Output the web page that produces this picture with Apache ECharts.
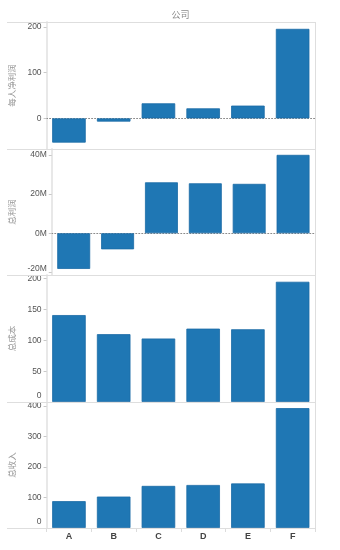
<!DOCTYPE html>
<html>
<head>
<meta charset="utf-8">
<script src="https://cdn.jsdelivr.net/npm/echarts@6/dist/echarts.min.js"></script>
<style>
  html, body { margin: 0; padding: 0; background: #fff; }
  #chart { width: 340px; height: 550px; }
</style>
</head>
<body>
<div id="chart"></div>
<script>
// Company metrics, one panel per measure
const companies = ['A', 'B', 'C', 'D', 'E', 'F'];
const netPerPerson = [-53, -7, 33, 22, 28, 196];          // 每人净利润
const totalProfit = [-18.2e6, -8.2e6, 26.0e6, 25.5e6, 25.2e6, 40.0e6]; // 总利润
const totalCost = [141, 110, 103, 119, 118, 195];        // 总成本
const totalRevenue = [88, 103, 138, 141, 146, 393];      // 总收入

const measureNames = ['每人净利润', '总利润', '总成本', '总收入'];
const tickNet = [0, 100, 200];
const tickProfit = [-20e6, 0, 20e6, 40e6];
const tickCost = [0, 50, 100, 150, 200];
const tickRevenue = [0, 100, 200, 300, 400];

const seriesData = [netPerPerson, totalProfit, totalCost, totalRevenue];
const tickSets = [tickNet, tickProfit, tickCost, tickRevenue];
const ranges = [[-67, 211], [-21.3e6, 43e6], [0, 206], [0, 413]];

const FONT = '"Liberation Sans", Arial, sans-serif';
const CJK = '"Noto Sans CJK SC", sans-serif';
const tops = [22, 149, 275, 402];
const heights = [127, 126, 127, 126];
const LEFT = 46, RIGHT_X = 315;

const chart = echarts.init(document.getElementById('chart'), null, { renderer: 'canvas' });

const grids = tops.map((t, i) => ({ left: LEFT, width: RIGHT_X - LEFT, top: t, height: heights[i] }));

const xAxes = tops.map((t, i) => ({
  type: 'category',
  gridIndex: i,
  data: companies,
  boundaryGap: true,
  axisLine: i < 2
    ? { show: true, onZero: true, lineStyle: { color: '#8a8a8a', type: [1, 2], width: 1 } }
    : { show: i === 3, lineStyle: { color: '#dcdcdc', width: 1 } },
  axisTick: { show: i === 3, length: 4, lineStyle: { color: '#dcdcdc' } },
  axisLabel: {
    show: i === 3, margin: 4, color: '#444', fontSize: 9, fontWeight: 'bold', fontFamily: FONT
  },
  splitLine: { show: false }
}));

// Edge labels are nudged inward so they stay inside their panel
function labelFor(i) {
  return function (v) {
    const txt = i === 1 ? (v / 1e6) + 'M' : String(v);
    if (i === 1 && v === -20e6) return '{up1|' + txt + '}';
    if ((i === 2 || i === 3) && v === 0) return '{up2|' + txt + '}';
    return txt;
  };
}

const yAxes = tops.map((t, i) => ({
  type: 'value',
  gridIndex: i,
  min: ranges[i][0],
  max: ranges[i][1],
  name: measureNames[i],
  nameLocation: 'middle',
  nameGap: 30,
  nameTextStyle: { color: '#9a9a9a', fontSize: 8.5, fontFamily: CJK },
  axisLine: { show: true, lineStyle: { color: '#e8e8e8', width: 2 } },
  axisTick: { show: true, length: 3, customValues: tickSets[i], lineStyle: { color: '#c8c8c8' } },
  axisLabel: {
    customValues: tickSets[i],
    margin: 5,
    color: '#555',
    fontSize: 8.5,
    fontFamily: FONT,
    formatter: labelFor(i),
    rich: {
      up1: { fontSize: 8.5, color: '#555', fontFamily: FONT, padding: [0, 0, 7, 0] },
      up2: { fontSize: 8.5, color: '#555', fontFamily: FONT, padding: [0, 0, 12, 0] }
    }
  },
  splitLine: { show: false }
}));

const series = seriesData.map((d, i) => ({
  type: 'bar',
  xAxisIndex: i,
  yAxisIndex: i,
  data: d,
  barCategoryGap: '25%',
  itemStyle: { color: '#1f77b4', borderColor: '#1b6ba6', borderWidth: 0.8 },
  emphasis: { disabled: true },
  animation: false
}));

// Panel frame lines and the column header
const graphics = [];
[22, 149, 275, 402, 528].forEach(y => {
  graphics.push({
    type: 'line', z: 100,
    shape: { x1: 7, y1: y + 0.5, x2: RIGHT_X, y2: y + 0.5 },
    style: { stroke: '#dedede', lineWidth: 1 }
  });
});
graphics.push({
  type: 'line', z: 100,
  shape: { x1: RIGHT_X + 0.5, y1: 22, x2: RIGHT_X + 0.5, y2: 528 },
  style: { stroke: '#dedede', lineWidth: 1 }
});
graphics.push({
  type: 'text', x: 180.5, y: 15,
  style: { text: '公司', fill: '#8a8a8a', fontSize: 9, align: 'center', verticalAlign: 'middle', fontFamily: CJK }
});

chart.setOption({
  animation: false,
  grid: grids,
  xAxis: xAxes,
  yAxis: yAxes,
  series: series,
  graphic: graphics
});
</script>
</body>
</html>
